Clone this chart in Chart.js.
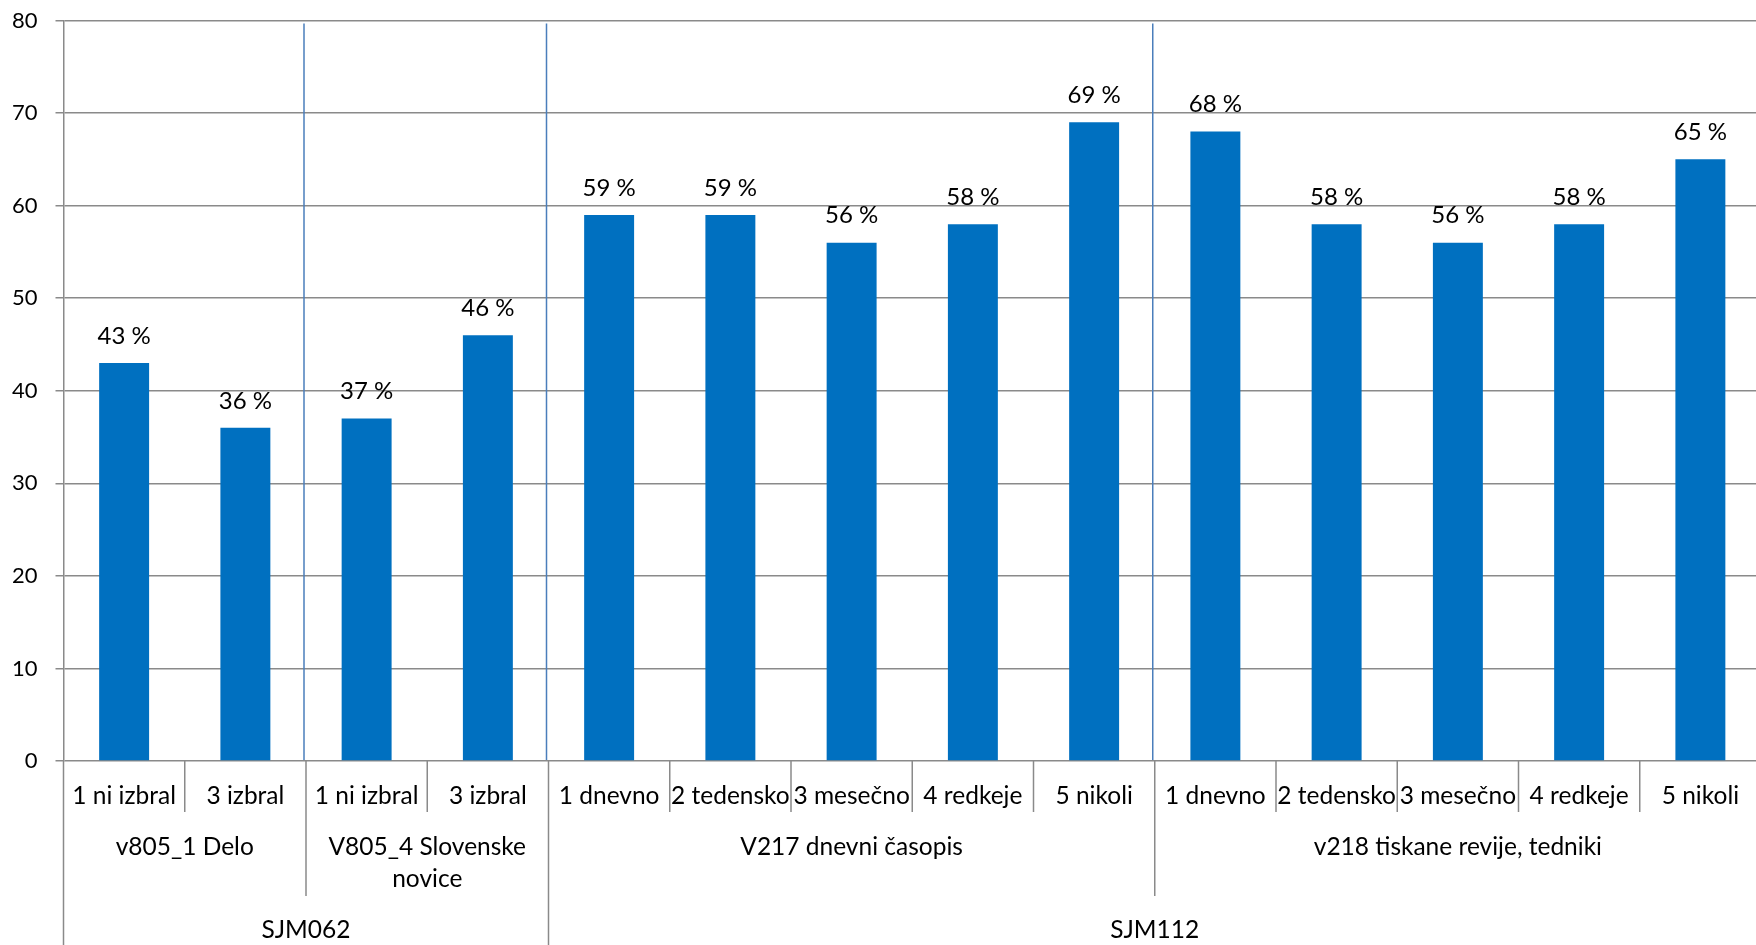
<!DOCTYPE html>
<html>
<head>
<meta charset="utf-8">
<script src="https://cdn.jsdelivr.net/npm/chart.js@4"></script>
<style>
    html, body { margin: 0; padding: 0; background: #fff; overflow: hidden; }
    #wrap { position: absolute; left: 0; top: 0; width: 1761px; height: 945px; }
</style>
</head>
<body>
<div id="wrap"><canvas id="barChart"></canvas></div>
<script>
// Data
const subLabels = ['1 ni izbral', '3 izbral', '1 ni izbral', '3 izbral',
    '1 dnevno', '2 tedensko', '3 mesečno', '4 redkeje', '5 nikoli',
    '1 dnevno', '2 tedensko', '3 mesečno', '4 redkeje', '5 nikoli'];
const values = [43, 36, 37, 46, 59, 59, 56, 58, 69, 68, 58, 56, 58, 65];
const groupLabels = [['v805_1 Delo'], ['V805_4 Slovenske', 'novice'], ['V217 dnevni časopis'], ['v218 tiskane revije, tedniki']];
const groupSizes = [2, 2, 5, 5];
const topLabels = ['SJM062', 'SJM112'];
const topSizes = [4, 10];
const yTicks = [0, 10, 20, 30, 40, 50, 60, 70, 80];

const GRID = '#8a8a8a';
const VALUE_FONT = '24px Lato';
const AXIS_FONT = '24.5px Lato';

// Edge of category i (left side), i from 0..n
function edgeOf(chart, i) {
    const x = chart.scales.x;
    const area = chart.chartArea;
    if (i <= 0) return area.left;
    if (i >= subLabels.length) return area.right;
    return (x.getPixelForValue(i - 1) + x.getPixelForValue(i)) / 2;
}

function cumulative(sizes) {
    const out = [0];
    sizes.forEach(s => out.push(out[out.length - 1] + s));
    return out;
}

// Blue separator lines inside the plot
const separatorPlugin = {
    id: 'separators',
    beforeDatasetsDraw(chart) {
        const ctx = chart.ctx;
        const area = chart.chartArea;
        const bounds = cumulative(groupSizes).slice(1, -1);
        ctx.save();
        ctx.strokeStyle = '#4a7ebb';
        ctx.lineWidth = 1.5;
        bounds.forEach(b => {
            const px = edgeOf(chart, b) - 2;
            ctx.beginPath();
            ctx.moveTo(px, area.top + 3);
            ctx.lineTo(px, area.bottom - 1);
            ctx.stroke();
        });
        ctx.restore();
    }
};

// Value labels and the multi-level category axis
const labelsPlugin = {
    id: 'labels',
    afterDatasetsDraw(chart) {
        const ctx = chart.ctx;
        const area = chart.chartArea;
        const meta = chart.getDatasetMeta(0);
        ctx.save();
        ctx.fillStyle = '#000';
        ctx.textAlign = 'center';
        ctx.textBaseline = 'middle';

        // value labels
        ctx.font = VALUE_FONT;
        meta.data.forEach((bar, i) => {
            ctx.fillText(values[i] + ' %', bar.x, bar.y - 27);
        });

        ctx.font = AXIS_FONT;
        // level 1
        subLabels.forEach((lab, i) => {
            const cx = (edgeOf(chart, i) + edgeOf(chart, i + 1)) / 2;
            ctx.fillText(lab, cx, area.bottom + 35);
        });

        // level 2
        const gb = cumulative(groupSizes);
        groupLabels.forEach((lines, g) => {
            const cx = (edgeOf(chart, gb[g]) + edgeOf(chart, gb[g + 1])) / 2;
            lines.forEach((line, k) => {
                ctx.fillText(line, cx, area.bottom + 86 + k * 32);
            });
        });

        // level 3
        const tb = cumulative(topSizes);
        topLabels.forEach((lab, t) => {
            const cx = (edgeOf(chart, tb[t]) + edgeOf(chart, tb[t + 1])) / 2;
            ctx.fillText(lab, cx, area.bottom + 169);
        });

        // separator ticks below the axis
        ctx.strokeStyle = GRID;
        ctx.lineWidth = 1.5;
        for (let i = 0; i <= subLabels.length; i++) {
            let len = 51;
            if (gb.includes(i)) len = 135;
            if (tb.includes(i)) len = chart.height - area.bottom;
            const px = edgeOf(chart, i);
            ctx.beginPath();
            ctx.moveTo(px, area.bottom);
            ctx.lineTo(px, area.bottom + len);
            ctx.stroke();
        }
        ctx.restore();
    }
};

const barChart = new Chart(document.getElementById('barChart'), {
    type: 'bar',
    data: {
        labels: subLabels,
        datasets: [{
            data: values,
            backgroundColor: '#0070c0',
            borderWidth: 0,
            categoryPercentage: 1,
            barPercentage: 0.412
        }]
    },
    options: {
        responsive: true,
        maintainAspectRatio: false,
        animation: false,
        layout: {
            padding: { top: 20.5, right: 0, bottom: 0, left: 0 }
        },
        plugins: {
            legend: { display: false },
            tooltip: { enabled: false }
        },
        scales: {
            x: {
                ticks: { display: false },
                grid: { display: false },
                border: { display: false },
                afterFit: scale => { scale.height = 184; }
            },
            y: {
                min: yTicks[0],
                max: yTicks[yTicks.length - 1],
                afterBuildTicks: scale => { scale.ticks = yTicks.map(v => ({ value: v })); },
                ticks: {
                    padding: 18,
                    color: '#000',
                    font: { family: 'Lato', size: 22 }
                },
                grid: {
                    color: GRID,
                    lineWidth: 1.5,
                    tickLength: 8
                },
                border: { color: GRID, width: 1.5 },
                afterFit: scale => {
                    scale.width = 63.5;
                    scale.paddingTop = 0;
                    scale.paddingBottom = 0;
                }
            }
        }
    },
    plugins: [separatorPlugin, labelsPlugin]
});
</script>
</body>
</html>
